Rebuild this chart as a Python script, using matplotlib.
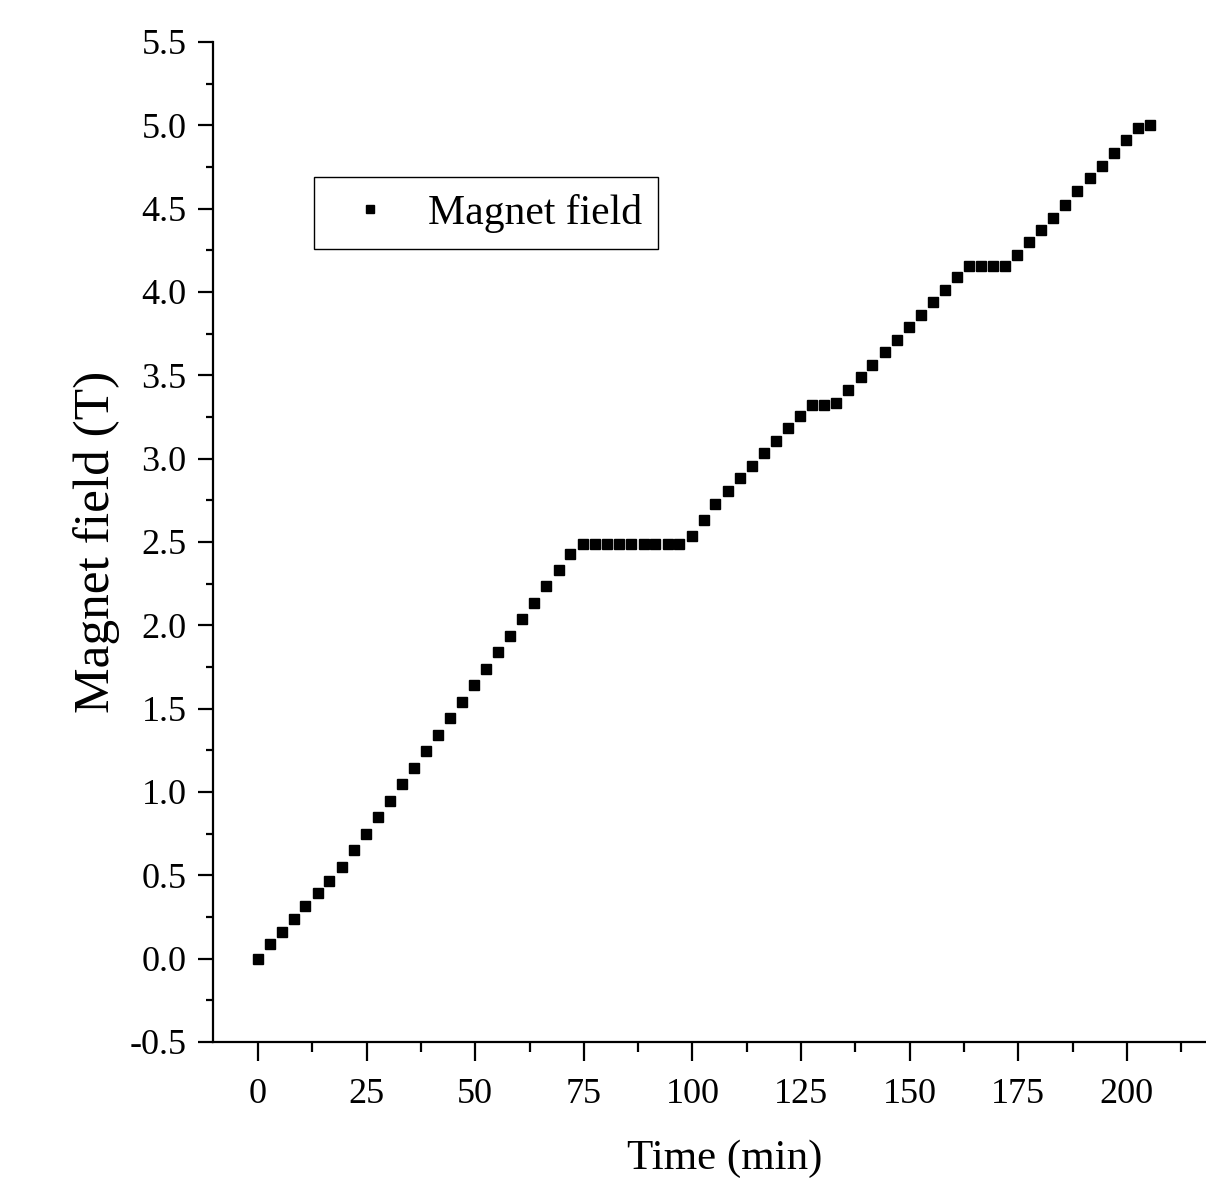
import matplotlib
matplotlib.use('Agg')
import matplotlib.pyplot as plt
from matplotlib.ticker import MultipleLocator

# Daten
time_min = [0.0, 2.74, 5.5, 8.2, 10.9, 13.7, 16.4, 19.3, 22.0, 24.8,
            27.6, 30.3, 33.1, 35.8, 38.6, 41.4, 44.1, 46.9, 49.8, 52.5,
            55.3, 58.0, 60.8, 63.6, 66.4, 69.2, 71.9, 74.7, 77.5, 80.4,
            83.2, 85.9, 88.8, 91.5, 94.3, 97.0, 99.8, 102.6, 105.3, 108.2,
            110.9, 113.7, 116.5, 119.2, 122.0, 124.8, 127.6, 130.3, 133.1, 135.9,
            138.7, 141.4, 144.3, 147.0, 149.8, 152.6, 155.3, 158.1, 160.9, 163.7,
            166.4, 169.2, 172.0, 174.8, 177.5, 180.3, 183.1, 185.8, 188.6, 191.5,
            194.2, 197.0, 199.8, 202.5, 205.4]
field_T = [0.000, 0.086, 0.162, 0.240, 0.316, 0.392, 0.468, 0.550, 0.650, 0.750,
           0.850, 0.948, 1.048, 1.146, 1.246, 1.344, 1.442, 1.542, 1.642, 1.740,
           1.838, 1.938, 2.036, 2.136, 2.234, 2.334, 2.430, 2.490, 2.490, 2.490,
           2.490, 2.490, 2.490, 2.490, 2.490, 2.490, 2.534, 2.630, 2.730, 2.808,
           2.882, 2.958, 3.034, 3.108, 3.184, 3.258, 3.322, 3.322, 3.336, 3.410,
           3.490, 3.564, 3.638, 3.714, 3.790, 3.864, 3.940, 4.014, 4.090, 4.154,
           4.154, 4.154, 4.154, 4.224, 4.298, 4.370, 4.446, 4.522, 4.608, 4.684,
           4.758, 4.834, 4.910, 4.986, 5.002]

x_ticks = [0, 25, 50, 75, 100, 125, 150, 175, 200]
y_ticks = [-0.5, 0.0, 0.5, 1.0, 1.5, 2.0, 2.5, 3.0, 3.5, 4.0, 4.5, 5.0, 5.5]

plt.rcParams['font.family'] = ['Liberation Serif', 'DejaVu Serif']

fig = plt.figure(figsize=(12.06, 11.99), dpi=100)
W, H = 1206, 1199
ax = fig.add_axes([213 / W, 1 - 1042 / H, 992 / W, 1000 / H])

ax.plot(time_min, field_T, linestyle='none', marker='s', markersize=6.8,
        color='black', label='Magnet field')

ax.set_xlim(-10.36, 218)
ax.set_ylim(-0.5, 5.5)
ax.set_xticks(x_ticks)
ax.set_yticks(y_ticks)
ax.set_yticklabels([f'{v:.1f}' for v in y_ticks])
ax.xaxis.set_minor_locator(MultipleLocator(12.5))
ax.yaxis.set_minor_locator(MultipleLocator(0.25))

ax.spines['top'].set_visible(False)
ax.spines['right'].set_visible(False)
for s in ['left', 'bottom']:
    ax.spines[s].set_linewidth(1.6)

ax.tick_params(axis='x', which='major', direction='out', length=14, width=1.6,
               labelsize=26, pad=12)
ax.tick_params(axis='x', which='minor', direction='out', length=7, width=1.6)
ax.tick_params(axis='y', which='major', direction='out', length=11, width=1.6,
               labelsize=26, pad=8)
ax.tick_params(axis='y', which='minor', direction='out', length=5, width=1.6)

ax.set_xlabel('Time (min)', fontsize=31)
ax.set_ylabel('Magnet field (T)', fontsize=37)
ax.xaxis.set_label_coords(0.516, -0.098)
ax.yaxis.set_label_coords(-0.094, 0.5)

leg = ax.legend(loc='upper left', bbox_to_anchor=(0.102, 0.865), borderaxespad=0,
                fontsize=30, frameon=True, fancybox=False, framealpha=1,
                edgecolor='black', handlelength=1.9, handletextpad=0.42,
                borderpad=0.4, markerscale=0.9)
leg.get_frame().set_linewidth(1.0)

fig.savefig('out.png', dpi=100, facecolor='white')
